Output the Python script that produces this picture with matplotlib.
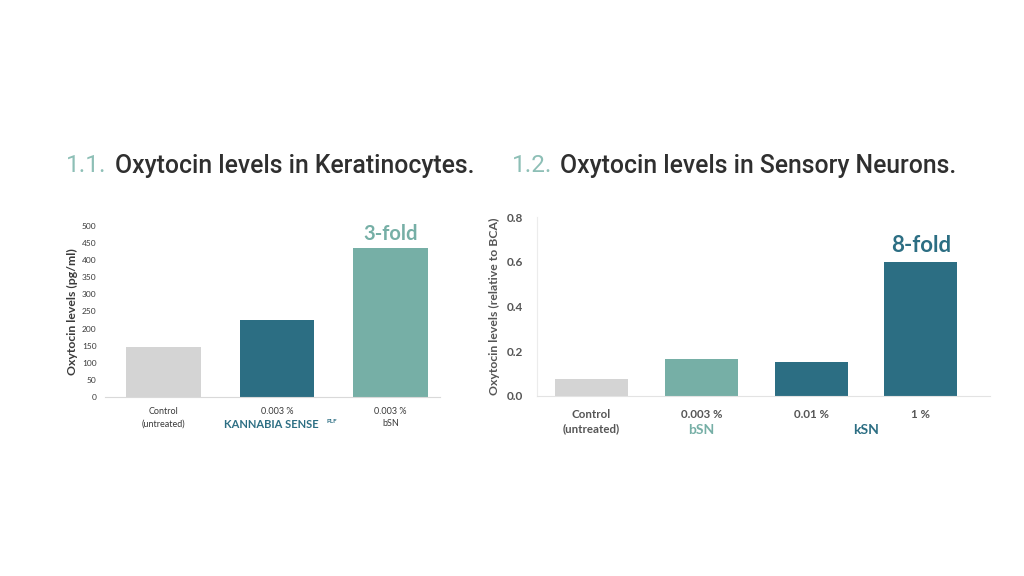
import numpy as np
import matplotlib
matplotlib.use('Agg')
import matplotlib.pyplot as plt

# data
ker_labels = ['Control\n(untreated)', '0.003 %', '0.003 %\nbSN']
ker_values = [145, 225, 435]
ker_ticks = [0, 50, 100, 150, 200, 250, 300, 350, 400, 450, 500]

neu_labels = ['Control\n(untreated)', '0.003 %', '0.01 %', '1 %']
neu_values = [0.075, 0.165, 0.152, 0.60]
neu_ticks = [0.0, 0.2, 0.4, 0.6, 0.8]

gray = '#d4d4d4'
dark = '#2c6e83'
light = '#76afa6'
txt = '#3a3a3a'

plt.rcParams['font.family'] = ['Lato', 'DejaVu Sans']

fig = plt.figure(figsize=(10.24, 5.76), dpi=100)
fig.patch.set_facecolor('white')

# titles
ty = 1 - 166/576
fig.text(66/1024, ty, '1.1.', color='#8dbfb6', fontsize=17.5, family='Roboto', va='center')
fig.text(115/1024, ty, 'Oxytocin levels in Keratinocytes.', color='#2f2f2f', fontsize=17.8,
         family='Roboto', fontweight='medium', va='center')
fig.text(512/1024, ty, '1.2.', color='#8dbfb6', fontsize=17.5, family='Roboto', va='center')
fig.text(560/1024, ty, 'Oxytocin levels in Sensory Neurons.', color='#2f2f2f', fontsize=17.8,
         family='Roboto', fontweight='medium', va='center')

# 1.1 keratinocytes
ax1 = fig.add_axes([105/1024, 1-397/576, 335/1024, 171/576])
x1 = np.arange(len(ker_values))
ax1.bar(x1, ker_values, width=0.66, color=[gray, dark, light])
ax1.set_xlim(-0.515, 2.436)
ax1.set_ylim(0, 500)
ax1.set_yticks(ker_ticks)
ax1.tick_params(axis='y', labelsize=6, colors=txt, length=0, pad=6)
ax1.set_xticks(x1)
ax1.set_xticklabels(ker_labels, fontsize=6.5, color=txt, linespacing=1.5)
ax1.tick_params(axis='x', length=0, pad=7)
for s in ['top', 'right', 'left']:
    ax1.spines[s].set_visible(False)
ax1.spines['bottom'].set_color('#d9d9d9')
ax1.set_ylabel('Oxytocin levels (pg/ml)', fontsize=8.8, color=txt, fontweight='bold', labelpad=3)
ax1.text(x1[2], ker_values[2] + 12, '3-fold', ha='center', va='bottom', fontsize=14.5,
         fontweight='bold', color=light)
ax1.text(0.947, -0.16, 'KANNABIA SENSE', transform=ax1.get_xaxis_transform(), ha='center',
         va='center', fontsize=8, fontweight='bold', color=dark)
ax1.text(1.44, -0.145, 'PLF', transform=ax1.get_xaxis_transform(), ha='left', va='center',
         fontsize=4.5, fontweight='bold', color=dark)

# 1.2 sensory neurons
ax2 = fig.add_axes([537/1024, 1-396/576, 453/1024, 179/576])
x2 = np.arange(len(neu_values))
ax2.bar(x2, neu_values, width=0.665, color=[gray, light, dark, dark])
ax2.set_xlim(-0.497, 3.63)
ax2.set_ylim(0, 0.8)
ax2.set_yticks(neu_ticks)
ax2.set_yticklabels(['%.1f' % v for v in neu_ticks])
ax2.tick_params(axis='y', labelsize=8.5, colors='#555555', length=0, pad=10)
for lb in ax2.get_yticklabels():
    lb.set_fontweight('bold')
ax2.set_xticks(x2)
ax2.set_xticklabels(neu_labels, fontsize=8.3, color='#555555', fontweight='bold', linespacing=1.45)
ax2.tick_params(axis='x', length=0, pad=9)
for s in ['top', 'right']:
    ax2.spines[s].set_visible(False)
ax2.spines['bottom'].set_color('#e3e3e3')
ax2.spines['left'].set_color('#ececec')
ax2.set_ylabel('Oxytocin levels (relative to BCA)', fontsize=8.8, color='#555555', fontweight='bold',
               labelpad=5)
ax2.text(x2[3], neu_values[3] + 0.025, '8-fold', ha='center', va='bottom', fontsize=16,
         fontweight='bold', color=dark)
ax2.text(1, -0.19, 'bSN', transform=ax2.get_xaxis_transform(), ha='center', va='center',
         fontsize=10, fontweight='bold', color=light)
ax2.text(2.5, -0.19, 'kSN', transform=ax2.get_xaxis_transform(), ha='center', va='center',
         fontsize=10, fontweight='bold', color=dark)

plt.savefig('out.png', dpi=100, facecolor='white')
